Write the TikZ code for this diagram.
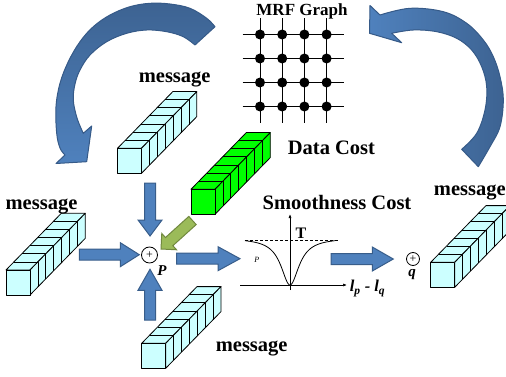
\documentclass[tikz,border=0pt]{standalone}
\usepackage{fontspec}
\setmainfont{Liberation Serif}
\usetikzlibrary{calc,arrows.meta}

\definecolor{cubecyan}{HTML}{CCFFFF}
\definecolor{cubegreen}{HTML}{00FF00}
\definecolor{arrowblue}{HTML}{4F81BD}
\definecolor{arrowblueline}{HTML}{385D8A}
\definecolor{arcdark}{HTML}{3D6392}
\definecolor{arcline}{HTML}{365A88}
\definecolor{datagreen}{HTML}{9BBB59}
\definecolor{datagreenline}{HTML}{71893F}

% block arrow between two named points:
% #1 style, #2 tail, #3 tip, #4 head length, #5 half shaft width, #6 half head width
\newcommand\blockarrowto[6]{%
  \coordinate (hb) at ($(#3)!#4!(#2)$);
  \path[#1] ($(#2)!#5!90:(#3)$) -- ($(hb)!#5!90:(#3)$) -- ($(hb)!#6!90:(#3)$) -- (#3)
     -- ($(hb)!#6!-90:(#3)$) -- ($(hb)!#5!-90:(#3)$) -- ($(#2)!#5!-90:(#3)$) -- cycle;}

\tikzset{
  % a row of seven cubes seen obliquely; origin = lower left of the front face
  pics/msgbar/.style={code={
    \filldraw[fill=#1, cubeline] (0,-25) -- (24,-25) -- (79.3,-81.7) -- (55.3,-81.7) -- cycle;
    \filldraw[fill=#1, cubeline] (24,0) -- (24,-25) -- (79.3,-81.7) -- (79.3,-56.7) -- cycle;
    \foreach \i in {1,...,6}{
      \draw[cubeline] ({\i*7.9},{-25-\i*8.1}) -- ({24+\i*7.9},{-25-\i*8.1}) -- ({24+\i*7.9},{-\i*8.1});
    }
    \filldraw[fill=#1, cubeline] (0,0) rectangle (24,-25);
  }},
  cubeline/.style={draw=black, line width=0.8pt, line join=round},
  bluearrow/.style={fill=arrowblue, draw=arrowblueline, line width=1pt, line join=miter},
  greenarrow/.style={fill=datagreen, draw=datagreenline, line width=1pt, line join=miter},
  arcarrow/.style={draw=arcline, line width=1pt, line join=round},
  lbl/.style={font=\fontsize{20.5}{24}\selectfont\bfseries, inner sep=0pt, anchor=base},
  dot/.style={circle, fill=black, minimum size=10pt, inner sep=0pt},
  gridline/.style={draw=black, line width=0.8pt},
  sumnode/.style={circle, draw=black, line width=0.8pt, inner sep=0pt, font=\fontsize{12}{12}\selectfont},
  axisline/.style={draw=black, line width=0.7pt, -{Latex[length=4pt,width=3pt]}},
}

\begin{document}
\begin{tikzpicture}[x=1pt, y=-1pt]
\useasboundingbox (0,0) rectangle (506,377);
\clip (0,0) rectangle (506,377);

% curved arrow on the left
\path[arcarrow, top color=arcdark, bottom color=arrowblue]
  plot[smooth, tension=0.6] coordinates {(215,26.7) (206.7,18.3) (190,8.3) (170,4) (150,3.3) (130,6.7) (110,15) (93.3,26.7) (80,41.7) (68.3,61.7) (60,83.3) (56,106.7) (56.7,133.3) (60,148) (65,155)}
  -- (56,163.5) -- (86.7,161.7) -- (91.7,126) -- (83.3,133.3)
  -- plot[smooth, tension=0.6] coordinates {(83.3,133.3) (77,118) (73.3,100) (75,84) (80,70) (90,55) (106.7,41.7) (126.7,33.3) (146.7,30) (166.7,31.7) (183.3,36.7) (195,45)}
  -- cycle;

% curved arrow on the right
\path[arcarrow, left color=arrowblue, right color=arcdark]
  plot[smooth, tension=0.6] coordinates {(478.3,166.7) (490,146.7) (500,126.7) (503.3,100) (500,76.7) (493.3,56.7) (483.3,40) (466.7,23.3) (443.3,11.7) (410,8.3) (380,15)}
  -- (370,5.5) -- (369.5,33.3) -- (401.7,42.7) -- (391.7,33.3)
  -- plot[smooth, tension=0.6] coordinates {(391.7,33.3) (413.3,30) (436.7,31.7) (456.7,38.3) (471.7,50) (481.7,66.7) (486.7,86.7) (485,110) (476.7,133.3) (461.7,149.3)}
  -- cycle;

% MRF grid
\node[font=\fontsize{17}{20}\selectfont\bfseries, inner sep=0pt, anchor=base] (mrf) at (302,15.7) {MRF Graph};
\foreach \r in {34.5,58.5,82.5,106.5} \draw[gridline] (242.7,\r) -- (344,\r);
\foreach \c in {260,282.2,304.4,326.6} \draw[gridline] (\c,18.3) -- (\c,123.3);
\foreach \c [count=\ci] in {260,282.2,304.4,326.6}
  \foreach \r [count=\ri] in {34.5,58.5,82.5,106.5}
    \node[dot] (g\ci\ri) at (\c,\r) {};

% block arrows into and out of node p
\node[sumnode, minimum size=16pt] (P) at (149.5,255) {+};
\node[sumnode, minimum size=13pt] (Q) at (413,259) {+};

\coordinate (topIn) at (150,183);     \coordinate (topTip) at (150,236);
\coordinate (leftIn) at (79.3,254.7); \coordinate (leftTip) at (139.3,254.7);
\coordinate (botIn) at (150,320);     \coordinate (botTip) at (150,269.3);
\coordinate (pOut) at (176.7,258.7);  \coordinate (costIn) at (240,258.7);
\coordinate (costOut) at (331,259);   \coordinate (qIn) at (393.3,259);
\coordinate (dataOut) at (192.5,220.5); \coordinate (dataTip) at (161,249);

\blockarrowto{bluearrow}{topIn}{topTip}{16pt}{5.5pt}{12pt}
\blockarrowto{bluearrow}{leftIn}{leftTip}{19pt}{5.5pt}{12pt}
\blockarrowto{bluearrow}{botIn}{botTip}{21pt}{5.5pt}{12pt}
\blockarrowto{bluearrow}{pOut}{costIn}{22pt}{5.5pt}{12pt}
\blockarrowto{bluearrow}{costOut}{qIn}{21pt}{5.5pt}{12pt}
\blockarrowto{greenarrow}{dataOut}{dataTip}{11pt}{5.5pt}{11pt}

% message vectors and data cost vector
\pic (barTop) at (117.5,173.3) {msgbar=cubecyan};
\pic (barData) at (191,214.3) {msgbar=cubegreen};
\pic (barLeft) at (6,295) {msgbar=cubecyan};
\pic (barBottom) at (141.7,368.3) {msgbar=cubecyan};
\pic (barRight) at (430.7,287.3) {msgbar=cubecyan};

% smoothness cost plot: truncated penalty, flat at T away from zero
\coordinate (vBot) at (290,290); \coordinate (vTop) at (290,214);
\coordinate (hLeft) at (240,285); \coordinate (hRight) at (347,285);
\draw[axisline] (vBot) -- (vTop);
\draw[axisline] (hLeft) -- (hRight);
\draw[black, line width=0.8pt, dash pattern=on 3pt off 2pt] (245,240.7) -- (338,240.7);
\draw[black, line width=0.8pt] plot[domain=245:335, samples=121, smooth]
  (\x, {240.7+44.3*(1/(1+((\x-290)/11)*((\x-290)/11))-0.0564)/0.9436});

% labels
\node[lbl] (msgTop) at (174.7,83) {message};
\node[lbl] (dataCost) at (331.5,154) {Data Cost};
\node[lbl] (smooth) at (337,209.3) {Smoothness Cost};
\node[lbl] (msgLeft) at (41.5,209) {message};
\node[lbl] (msgBottom) at (251.7,351.7) {message};
\node[lbl] (msgRight) at (469.8,195) {message};
\node[font=\fontsize{16}{18}\selectfont\bfseries, inner sep=0pt, anchor=base] (tLbl) at (301,238.3) {T};
\node[font=\fontsize{8}{9}\selectfont\itshape, inner sep=0pt, anchor=base] (pSmall) at (256.7,262) {P};
\node[font=\fontsize{15}{17}\selectfont\bfseries\itshape, inner sep=0pt, anchor=base] (pLbl) at (162,275) {P};
\node[font=\fontsize{15}{17}\selectfont\bfseries\itshape, inner sep=0pt, anchor=base] (qLbl) at (412,276.7) {q};
\node[font=\fontsize{16.5}{19}\selectfont\bfseries\itshape, inner sep=0pt, anchor=base] (lDiff) at (367.5,291.7) {l\textsubscript{p} - l\textsubscript{q}};
\end{tikzpicture}
\end{document}
